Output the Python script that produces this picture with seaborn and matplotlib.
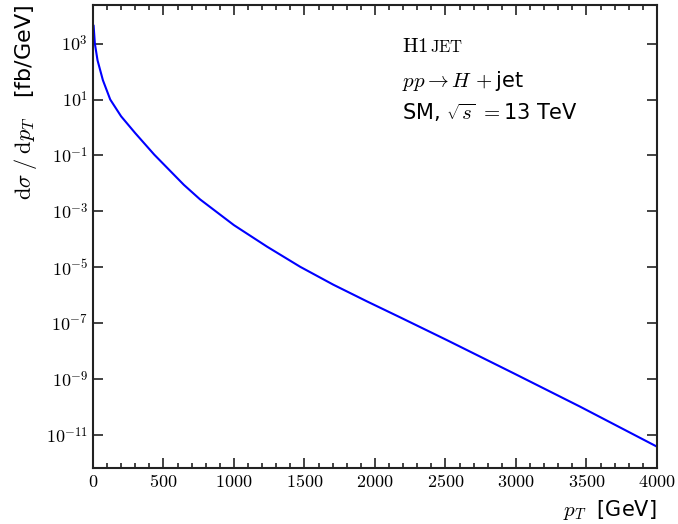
import numpy as np
import pandas as pd
import matplotlib
matplotlib.use("Agg")
import matplotlib.pyplot as plt
import seaborn as sns
from matplotlib.ticker import MultipleLocator, FixedLocator, FuncFormatter

# Data (pT in GeV, log10 of dsigma/dpT in fb/GeV)
pt_values = [5, 14, 33, 71, 123, 200, 300, 435, 645, 760, 1000, 1235, 1470,
             1705, 1945, 2180, 2510, 2985, 3455, 4000]
log_dsigma = [3.65, 3.0, 2.4, 1.69, 1.0, 0.40, -0.20, -0.97, -2.05, -2.57,
              -3.49, -4.26, -4.98, -5.62, -6.22, -6.79, -7.6, -8.79, -9.98,
              -11.41]
dsigma = [10.0 ** v for v in log_dsigma]

ytick_exps = [3, 1, -1, -3, -5, -7, -9, -11]
xtick_vals = [0, 500, 1000, 1500, 2000, 2500, 3000, 3500, 4000]

df = pd.DataFrame({"pT": pt_values, "dsigma": dsigma})

sns.set_style("ticks")
plt.rcParams["font.family"] = ["DejaVu Sans"]
plt.rcParams["mathtext.fontset"] = "cm"
plt.rcParams["text.color"] = "black"
plt.rcParams["axes.labelcolor"] = "black"
plt.rcParams["xtick.color"] = "black"
plt.rcParams["ytick.color"] = "black"

fig = plt.figure(figsize=(6.78, 5.24), dpi=100)
ax = fig.add_axes([0.137, 0.107, 0.832, 0.883])

sns.lineplot(data=df, x="pT", y="dsigma", ax=ax, color="#0000ff",
             linewidth=1.5, legend=False)

ax.set_yscale("log")
ax.set_xlim(0, 4000)
ax.set_ylim(10 ** -12.17, 10 ** 4.37)

ax.xaxis.set_major_locator(FixedLocator(xtick_vals))
ax.xaxis.set_minor_locator(MultipleLocator(100))
ax.xaxis.set_major_formatter(FuncFormatter(lambda v, p: r"$%d$" % int(round(v))))
ax.yaxis.set_major_locator(FixedLocator([10.0 ** e for e in ytick_exps]))
ax.yaxis.set_minor_locator(FixedLocator([]))
ax.yaxis.set_major_formatter(FuncFormatter(
    lambda v, p: r"$10^{%d}$" % int(round(np.log10(v)))))

ax.tick_params(which="both", direction="in", top=True, right=True,
               labelsize=13, width=1.2, color="#222222", labelcolor="black")
ax.tick_params(which="major", length=7)
ax.tick_params(which="minor", length=3.5)
for s in ax.spines.values():
    s.set_linewidth(1.5)
    s.set_color("#222222")

ax.set_xlabel(r"$p_T\ $ [GeV]", fontsize=15, loc="right", labelpad=5)
ax.set_ylabel(r"$\mathrm{d}\sigma\;/\;\mathrm{d}p_T$   [fb/GeV]", fontsize=16,
              loc="top", labelpad=5)

t1 = ax.text(0.548, 0.898, r"$\mathrm{H1}$", transform=ax.transAxes,
             fontsize=15, va="baseline", ha="left")
ax.annotate(r"$\mathrm{JET}$", xy=(1.0, 0.0), xycoords=t1, fontsize=12,
            va="bottom", ha="left", xytext=(1, 0.5), textcoords="offset points")
ax.text(0.548, 0.823, r"$pp \rightarrow H\,+$jet", transform=ax.transAxes,
        fontsize=15, va="baseline", ha="left")
ax.text(0.548, 0.752, r"SM, $\sqrt{s}\ =$13 TeV", transform=ax.transAxes,
        fontsize=15, va="baseline", ha="left")

fig.savefig("out.png", dpi=100)
